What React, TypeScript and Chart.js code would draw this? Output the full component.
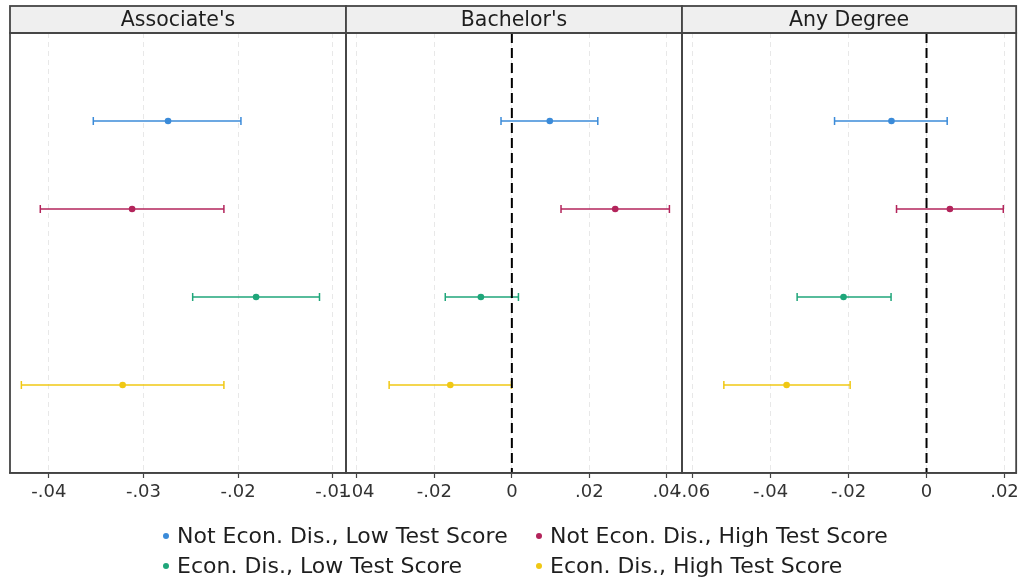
import React, { useEffect, useRef } from 'react';
import { Chart, registerables } from 'chart.js';

Chart.register(...registerables);

const panelTitles = ["Associate's", "Bachelor's", 'Any Degree'];
const groups = [
  'Not Econ. Dis., Low Test Score',
  'Not Econ. Dis., High Test Score',
  'Econ. Dis., Low Test Score',
  'Econ. Dis., High Test Score',
];
const groupColors = ['#3b8bd9', '#b3245b', '#1fa67a', '#f0c814'];
const groupRows = [1, 2, 3, 4];

// Associate's
const assocEst = [-0.0274, -0.0312, -0.0181, -0.0322];
const assocLo = [-0.0353, -0.0409, -0.0248, -0.0429];
const assocHi = [-0.0197, -0.0215, -0.0114, -0.0215];
// Bachelor's
const bachEst = [0.0098, 0.0267, -0.008, -0.0159];
const bachLo = [-0.0028, 0.0127, -0.0172, -0.0317];
const bachHi = [0.0222, 0.0407, 0.0017, -0.0001];
// Any Degree
const anyEst = [-0.009, 0.006, -0.0213, -0.0359];
const anyLo = [-0.0236, -0.0077, -0.0332, -0.052];
const anyHi = [0.0053, 0.0197, -0.0091, -0.0196];

const assocTicks = [-0.04, -0.03, -0.02, -0.01];
const bachTicks = [-0.04, -0.02, 0, 0.02, 0.04];
const anyTicks = [-0.06, -0.04, -0.02, 0, 0.02];

const xMins = [-0.0441, -0.04284, -0.06274];
const xMaxs = [-0.0086, 0.04395, 0.023];
const refValue = 0;

const FONT = '"DejaVu Sans", "Liberation Sans", sans-serif';

const fmt = (v: number) => {
  if (Math.abs(v) < 1e-9) return '0';
  return v.toFixed(2).replace('0.', '.');
};

const panelFrame = {
  id: 'panelFrame',
  afterDraw(chart: any, _args: any, opts: any) {
    const { ctx, chartArea: a } = chart;
    const headerTop = 6;
    ctx.save();
    ctx.fillStyle = '#efefef';
    ctx.fillRect(a.left, headerTop, a.right - a.left, a.top - headerTop);
    ctx.strokeStyle = '#454545';
    ctx.lineWidth = 1.8;
    ctx.strokeRect(a.left, headerTop, a.right - a.left, a.top - headerTop);
    ctx.strokeRect(a.left, a.top, a.right - a.left, a.bottom - a.top);
    ctx.fillStyle = '#1e1e1e';
    ctx.font = '20.5px ' + FONT;
    ctx.textAlign = 'center';
    ctx.textBaseline = 'middle';
    ctx.fillText(opts.title, (a.left + a.right) / 2, (headerTop + a.top) / 2 + 1);
    ctx.restore();
  },
};

const W = 1023;
const H = 583;

function buildConfig(idx: number, est: number[], lo: number[], hi: number[], ticks: number[]) {
  const paddings = [
    { left: 10, right: W - 346 },
    { left: 346, right: W - 682 },
    { left: 682, right: W - 1017 },
  ];
  const datasets: any[] = [];
  const min = xMins[idx];
  const max = xMaxs[idx];
  if (refValue >= min && refValue <= max) {
    datasets.push({
      type: 'line',
      data: [
        { x: refValue, y: 0 },
        { x: refValue, y: 5 },
      ],
      borderColor: '#000',
      borderWidth: 2,
      borderDash: [10, 5],
      pointRadius: 0,
      showLine: true,
      clip: 0,
    });
  }
  groups.forEach((g, i) => {
    datasets.push({
      type: 'line',
      label: g,
      data: [
        { x: lo[i], y: groupRows[i] },
        { x: hi[i], y: groupRows[i] },
      ],
      borderColor: groupColors[i],
      borderWidth: 1.5,
      showLine: true,
      pointStyle: 'line',
      pointRotation: 90,
      pointRadius: 4,
      pointBorderWidth: 1.5,
      pointBorderColor: groupColors[i],
      pointBackgroundColor: groupColors[i],
    });
    datasets.push({
      type: 'scatter',
      label: g + ' est',
      data: [{ x: est[i], y: groupRows[i] }],
      pointRadius: 3.3,
      pointBorderWidth: 0,
      pointBackgroundColor: groupColors[i],
      pointBorderColor: groupColors[i],
    });
  });

  return {
    type: 'scatter',
    data: { datasets },
    options: {
      animation: false,
      responsive: false,
      events: [],
      layout: { padding: { top: 33, bottom: 70, ...paddings[idx] } },
      plugins: {
        legend: { display: false },
        tooltip: { enabled: false },
        panelFrame: { title: panelTitles[idx] },
      },
      scales: {
        y: { type: 'linear', min: 0, max: 5, reverse: true, display: false },
        x: {
          type: 'linear',
          min,
          max,
          afterBuildTicks: (s: any) => {
            s.ticks = ticks.map((v) => ({ value: v }));
          },
          afterFit: (s: any) => {
            s.height = 40;
          },
          ticks: {
            callback: (v: any) => fmt(Number(v)),
            autoSkip: false,
            maxRotation: 0,
            color: '#333',
            padding: 4,
            font: { size: 18, family: FONT },
          },
          grid: {
            color: '#e8e8e8',
            lineWidth: 1,
            tickColor: '#444',
            tickLength: 5,
            tickWidth: 1.2,
          },
          border: { dash: [5, 4], color: '#333', width: 1.5 },
        },
      },
    },
    plugins: [panelFrame],
  } as any;
}

export default function App() {
  const r1 = useRef<HTMLCanvasElement>(null);
  const r2 = useRef<HTMLCanvasElement>(null);
  const r3 = useRef<HTMLCanvasElement>(null);

  useEffect(() => {
    const charts = [
      new Chart(r1.current as HTMLCanvasElement, buildConfig(0, assocEst, assocLo, assocHi, assocTicks)),
      new Chart(r2.current as HTMLCanvasElement, buildConfig(1, bachEst, bachLo, bachHi, bachTicks)),
      new Chart(r3.current as HTMLCanvasElement, buildConfig(2, anyEst, anyLo, anyHi, anyTicks)),
    ];
    return () => charts.forEach((c) => c.destroy());
  }, []);

  const canvasStyle: React.CSSProperties = { position: 'absolute', left: 0, top: 0, width: W, height: H };

  return (
    <div style={{ position: 'absolute', left: 0, top: 0, width: W, height: H, background: '#fff', overflow: 'hidden' }}>
      <canvas ref={r1} width={W} height={H} style={canvasStyle} />
      <canvas ref={r2} width={W} height={H} style={canvasStyle} />
      <canvas ref={r3} width={W} height={H} style={canvasStyle} />
      <div
        style={{
          position: 'absolute',
          left: 163,
          top: 524,
          display: 'grid',
          gridTemplateColumns: '373px auto',
          rowGap: 6,
          fontFamily: FONT,
          fontSize: 22,
          color: '#1e1e1e',
          lineHeight: '24px',
        }}
      >
        {groups.map((g, i) => (
          <div key={g} style={{ display: 'flex', alignItems: 'center', whiteSpace: 'nowrap' }}>
            <span
              style={{
                display: 'inline-block',
                width: 6,
                height: 6,
                borderRadius: 3,
                background: groupColors[i],
                marginRight: 8,
              }}
            />
            <span>{g}</span>
          </div>
        ))}
      </div>
    </div>
  );
}
